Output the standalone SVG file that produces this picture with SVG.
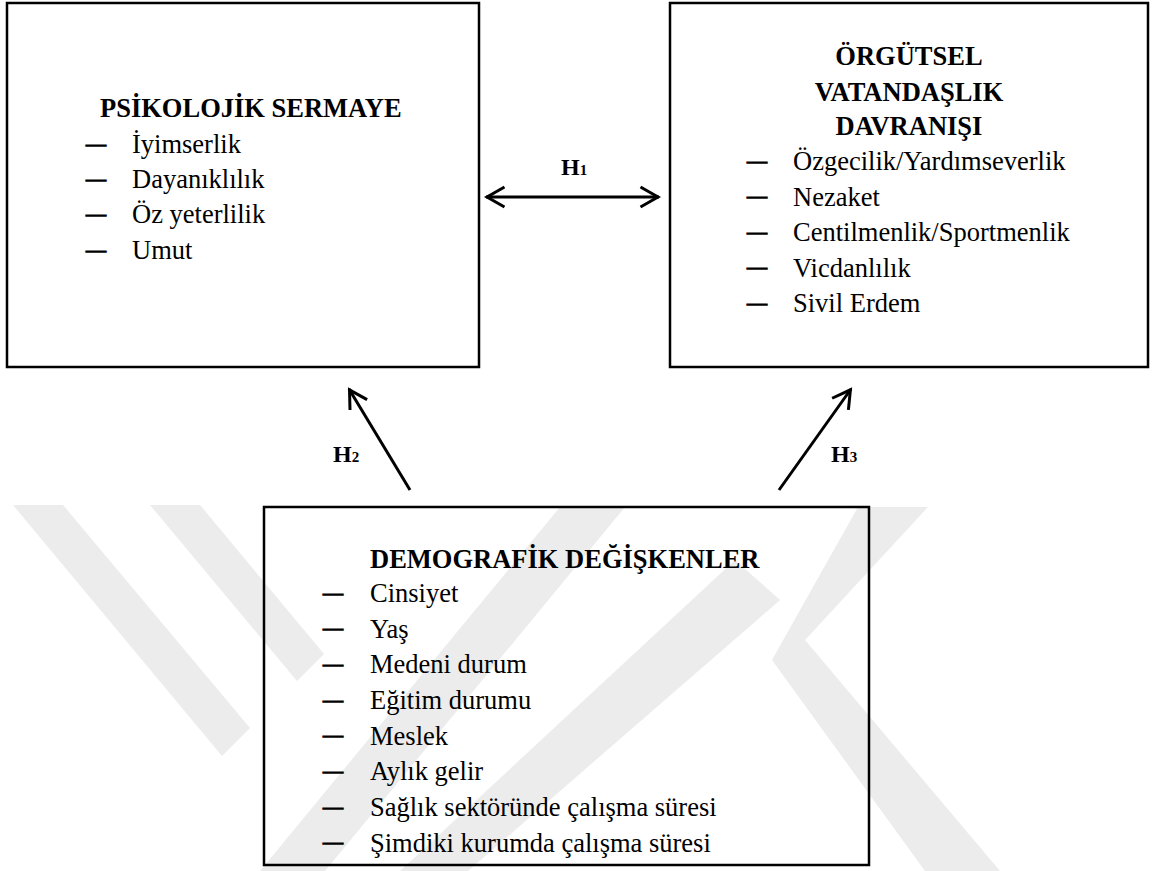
<svg xmlns="http://www.w3.org/2000/svg" width="1153" height="871" viewBox="0 0 1153 871">
<style>
.box{fill:none;stroke:#000;stroke-width:2.5}
.t{font-family:"Liberation Serif","Times New Roman",serif;font-size:26.5px;fill:#000}
.b{font-weight:bold}
.d{font-family:"Liberation Serif","Times New Roman",serif;font-size:20px;fill:#000;stroke:#000;stroke-width:1.1}
.h{font-family:"Liberation Serif","Times New Roman",serif;font-weight:bold;font-size:24px;fill:#000}
.wm{fill:#ececec}
.c{stroke:#000;stroke-width:3;fill:none}
</style>
<defs>
<marker id="ah" markerUnits="userSpaceOnUse" markerWidth="40" markerHeight="40" viewBox="-25 -20 40 40" refX="0" refY="0" orient="auto-start-reverse">
<path d="M-18.5,-10 L-1,0 L-18.5,10" fill="none" stroke="#000" stroke-width="3"/>
</marker>
</defs>
<rect width="1153" height="871" fill="#fff"/>
<g id="watermark">
<polygon class="wm" points="13,505 63,505 250,728 222,756"/>
<polygon class="wm" points="150,505 200,505 324,654 297,681"/>
<polygon class="wm" points="560,507 625,507 325,871 260,871"/>
<polygon class="wm" points="735,560 780,600 468,871 400,871"/>
<polygon class="wm" points="858,507 928,507 805,640 1000,871 925,871 772,660"/>
</g>
<g id="connectors">
<line class="c" x1="486" y1="197" x2="659" y2="197" marker-start="url(#ah)" marker-end="url(#ah)"/>
<line class="c" x1="410" y1="490" x2="349" y2="389" marker-end="url(#ah)"/>
<line class="c" x1="779" y1="490" x2="851" y2="389" marker-end="url(#ah)"/>
<text class="h" x="561" y="175">H<tspan font-size="15">1</tspan></text>
<text class="h" x="333" y="462">H<tspan font-size="15">2</tspan></text>
<text class="h" x="831" y="462">H<tspan font-size="15">3</tspan></text>
</g>
<g id="psikolojik">
<rect class="box" x="7" y="3" width="472" height="364"/>
<text class="t b" x="100" y="117">PSİKOLOJİK SERMAYE</text>
<text class="d" x="86" y="150.5">—</text><text class="t" x="132" y="153">İyimserlik</text>
<text class="d" x="86" y="185.5">—</text><text class="t" x="132" y="188">Dayanıklılık</text>
<text class="d" x="86" y="220.5">—</text><text class="t" x="132" y="223">Öz yeterlilik</text>
<text class="d" x="86" y="256.5">—</text><text class="t" x="132" y="259">Umut</text>
</g>
<g id="ovd">
<rect class="box" x="670" y="3" width="478" height="364"/>
<text class="t b" x="909" y="65" text-anchor="middle">ÖRGÜTSEL</text>
<text class="t b" x="909" y="100.5" text-anchor="middle">VATANDAŞLIK</text>
<text class="t b" x="909" y="135" text-anchor="middle">DAVRANIŞI</text>
<text class="d" x="747" y="167.5">—</text><text class="t" x="793" y="170">Özgecilik/Yardımseverlik</text>
<text class="d" x="747" y="203">—</text><text class="t" x="793" y="205.5">Nezaket</text>
<text class="d" x="747" y="238.5">—</text><text class="t" x="793" y="241">Centilmenlik/Sportmenlik</text>
<text class="d" x="747" y="274">—</text><text class="t" x="793" y="276.5">Vicdanlılık</text>
<text class="d" x="747" y="309.5">—</text><text class="t" x="793" y="312">Sivil Erdem</text>
</g>
<g id="demografik">
<rect class="box" x="264" y="507" width="605" height="358"/>
<text class="t b" x="370" y="568">DEMOGRAFİK DEĞİŞKENLER</text>
<text class="d" x="323" y="599.5">—</text><text class="t" x="370" y="602">Cinsiyet</text>
<text class="d" x="323" y="635">—</text><text class="t" x="370" y="637.5">Yaş</text>
<text class="d" x="323" y="670.5">—</text><text class="t" x="370" y="673">Medeni durum</text>
<text class="d" x="323" y="706.5">—</text><text class="t" x="370" y="709">Eğitim durumu</text>
<text class="d" x="323" y="742">—</text><text class="t" x="370" y="744.5">Meslek</text>
<text class="d" x="323" y="777.5">—</text><text class="t" x="370" y="780">Aylık gelir</text>
<text class="d" x="323" y="813.5">—</text><text class="t" x="370" y="816">Sağlık sektöründe çalışma süresi</text>
<text class="d" x="323" y="849">—</text><text class="t" x="370" y="851.5">Şimdiki kurumda çalışma süresi</text>
</g>
</svg>
